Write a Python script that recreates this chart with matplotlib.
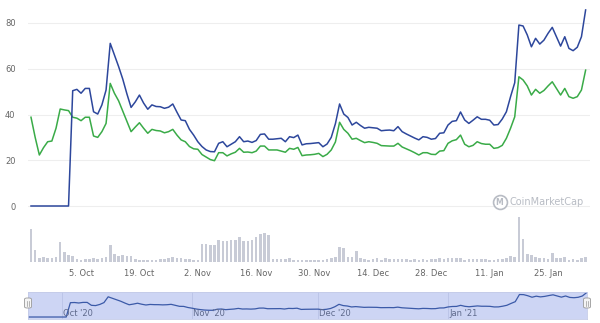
import matplotlib
matplotlib.use("Agg")
import matplotlib.pyplot as plt
import matplotlib.dates as mdates
from matplotlib.lines import Line2D
from matplotlib.patches import FancyBboxPatch
import pandas as pd
import numpy as np

start_date = "2020-09-23"
n_days = 134

blue_values = [0, 0, 0, 0, 0, 0, 0, 0, 0, 0,
               50.4, 51, 49.3, 51.4, 51.4, 41.2, 40.2, 44.2, 50.7, 71.1,
               66, 61, 55.5, 49, 43.1, 45.5, 48.5, 45, 42.3, 44.2,
               43.5, 43.4, 42.7, 43.2, 44.6, 41, 37.6, 37.3, 33.5, 31,
               28.1, 26, 24.5, 23.8, 23.7, 27.4, 28.1, 25.9, 27, 28.1,
               30.3, 28.1, 28.4, 27.8, 28.6, 31.3, 31.5, 29.2, 29.2, 29.4,
               29.6, 28.1, 30.3, 29.9, 31, 26.7, 27.2, 27.3, 27.5, 27.7,
               25.9, 27.1, 30, 36, 44.6, 40.2, 38.7, 35.4, 36.6, 35.2,
               34, 34.4, 34.2, 34, 32.9, 33.1, 33.2, 32.9, 34.7, 32.5,
               31.5, 30.6, 29.7, 28.9, 30.3, 30, 29.2, 29.5, 31.8, 32,
               35.4, 37, 37.3, 41.1, 37.6, 36.1, 37.5, 39, 37.9, 37.9,
               37.5, 35.4, 35.6, 38, 41.2, 47.8, 53.9, 79.1, 78.7, 74.8,
               69.6, 73.3, 70.8, 72.5, 75.5, 78.1, 74, 69.9, 74, 68.9,
               67.9, 69.4, 74, 85.7]

green_values = [38.8, 30, 22.3, 25.5, 28.1, 28.4, 34, 42.4, 42, 41.7,
                38.8, 38.4, 37.3, 38.8, 38.8, 30.6, 30, 32.5, 36.1, 53.6,
                49.3, 46, 41.5, 37, 32.5, 34.5, 36.4, 34, 31.8, 33.5,
                33, 32.8, 32, 32.5, 33.5, 31, 28.9, 28.1, 26, 25,
                24.8, 22.5, 21.4, 20.3, 19.8, 23.3, 23.3, 21.9, 22.8, 23.5,
                25.2, 23.5, 23.6, 23.3, 24, 26.2, 26.2, 24.5, 24.5, 24.5,
                24, 23.5, 25.2, 24.8, 25.6, 22, 22.3, 22.4, 22.6, 23,
                21.6, 22.6, 24.5, 28, 36.6, 33.5, 31.8, 29.2, 29.6, 28.6,
                27.7, 28.1, 27.8, 27.4, 26.4, 26.3, 26.2, 26.2, 27.4, 25.8,
                25, 24.2, 23.3, 22.3, 23.3, 23.3, 22.6, 22.5, 24, 24.2,
                27.4, 28.5, 29, 31, 27, 25.9, 26.5, 28.1, 27.3, 27,
                27, 25.2, 25.5, 26.5, 29.6, 34, 39, 56.5, 55.1, 52.5,
                48.5, 51, 49.3, 50.5, 52.5, 54.3, 51.4, 48.5, 51.4, 47.8,
                47.1, 47.8, 50.7, 59.4]

volume_values = [33, 12, 4, 5, 4.5, 4.5, 5.5, 20, 10, 7,
                 6.5, 3, 2.5, 3, 3.5, 4.5, 3, 4, 5, 17,
                 8, 6, 7, 6, 6, 3, 2.5, 2.5, 2.5, 2.5,
                 2.5, 3, 3, 4, 5, 4.5, 4, 3.5, 3, 2.5,
                 2, 18.3, 17.7, 17.3, 16.7, 21.7, 21, 21, 21.7, 22.3,
                 25, 21, 21, 22.3, 25, 28.3, 29.3, 26.7, 3.5, 3,
                 3.5, 3, 4, 2.5, 2.5, 2, 2, 2.5, 2, 2.5,
                 2.5, 3, 4, 5, 15, 14.3, 5, 5, 11, 4.3,
                 3.3, 2.3, 2.7, 4, 2.3, 4, 3, 3.5, 3, 3,
                 3, 2.5, 3, 2.5, 3, 2.5, 3.5, 3, 4, 3,
                 4, 4.5, 4, 4.5, 2.5, 3, 3.5, 3, 3.5, 3,
                 2.5, 2.5, 3, 3.5, 4, 5.7, 5, 45, 23.3, 7.7,
                 7.3, 5, 4.3, 4.3, 3.3, 9.3, 4.3, 4, 5, 2.3,
                 3.3, 1.7, 4.3, 5]

y_ticks = [0, 20, 40, 60, 80]
x_tick_dates = ["2020-10-05", "2020-10-19", "2020-11-02", "2020-11-16", "2020-11-30",
                "2020-12-14", "2020-12-28", "2021-01-11", "2021-01-25"]
x_tick_labels = ["5. Oct", "19. Oct", "2. Nov", "16. Nov", "30. Nov",
                 "14. Dec", "28. Dec", "11. Jan", "25. Jan"]
nav_month_dates = ["2020-10-01", "2020-11-01", "2020-12-01", "2021-01-01"]
nav_month_labels = ["Oct '20", "Nov '20", "Dec '20", "Jan '21"]

dates = pd.date_range(start_date, periods=n_days, freq="D")
xnum = mdates.date2num(dates)
x0 = xnum[0]

W, H = 600, 323
fig = plt.figure(figsize=(6.0, 3.23), dpi=100)
fig.patch.set_facecolor("white")

def ax_rect(l, t, r, b):
    return [l / W, 1 - b / H, (r - l) / W, (b - t) / H]

xlim = (x0 - 0.72, x0 + 134.05)
blue_c = "#2d479c"
green_c = "#3aab48"

# main price axes
ax = fig.add_axes(ax_rect(28, 5, 590, 212))
ax.plot(xnum, green_values, color=green_c, lw=1.1, zorder=3)
ax.plot(xnum, blue_values, color=blue_c, lw=1.1, zorder=4)
ax.set_xlim(*xlim)
top_v = (206 - 5) / 2.2875
bot_v = -(212 - 206) / 2.2875
ax.set_ylim(bot_v, top_v)
ax.set_yticks(y_ticks)
ax.set_yticklabels([str(v) for v in y_ticks])
ax.tick_params(axis="y", length=0, pad=9, labelsize=6, labelcolor="#666666")
ax.set_xticks([])
ax.grid(axis="y", color="#eeeeee", lw=0.8)
ax.set_axisbelow(True)
for s in ax.spines.values():
    s.set_visible(False)

# watermark
fig.add_artist(Line2D([499.5 / W], [1 - 202 / H], marker="o", markersize=10,
                      mfc="white", mec="#b8bcc4", mew=1.2, transform=fig.transFigure))
fig.text(499.5 / W, 1 - 202.5 / H, "M", fontsize=5.5, color="#b8bcc4",
         ha="center", va="center", fontweight="bold")
fig.text(510 / W, 1 - 202 / H, "CoinMarketCap", fontsize=7, color="#b8bcc4",
         ha="left", va="center")

# volume axes
axv = fig.add_axes(ax_rect(28, 212, 590, 262))
axv.bar(xnum, volume_values, width=0.62, color="#c8cbd6", linewidth=0)
axv.set_xlim(*xlim)
axv.set_ylim(0, 50)
axv.set_yticks([])
axv.set_xticks(mdates.date2num(pd.to_datetime(x_tick_dates)))
axv.set_xticklabels(x_tick_labels)
axv.tick_params(axis="x", length=0, pad=5, labelsize=6, labelcolor="#666666")
for s in axv.spines.values():
    s.set_visible(False)

# navigator
axn = fig.add_axes(ax_rect(28, 292, 587, 319))
axn.set_facecolor("#cdd5f4")
axn.plot(xnum, blue_values, color="#3b5aa8", lw=0.9)
axn.set_xlim(x0 - 0.1, x0 + 133.1)
axn.set_ylim(-7, 88)
axn.set_yticks([])
axn.set_xticks([])
for s in axn.spines.values():
    s.set_color("#c4cbe8")
    s.set_linewidth(0.6)
for d, lab in zip(nav_month_dates, nav_month_labels):
    xd = mdates.date2num(pd.Timestamp(d))
    axn.axvline(xd, color="#b9c3e6", lw=0.6, zorder=0)
    axn.text(xd + 0.3, -3, lab, fontsize=6, color="#5f6a8c", ha="left", va="bottom")

# navigator handles
for hx in (28, 587):
    fig.add_artist(FancyBboxPatch(((hx - 3.5) / W, 1 - 308 / H), 7 / W, 10 / H,
                                  boxstyle="round,pad=0,rounding_size=0.004",
                                  facecolor="#f4f4f4", edgecolor="#999999", lw=0.6,
                                  transform=fig.transFigure))
    for dx in (-1, 1):
        fig.add_artist(Line2D([(hx + dx) / W] * 2, [1 - 300.5 / H, 1 - 305.5 / H],
                              color="#999999", lw=0.5, transform=fig.transFigure))

fig.savefig("out.png", dpi=100, facecolor="white")
